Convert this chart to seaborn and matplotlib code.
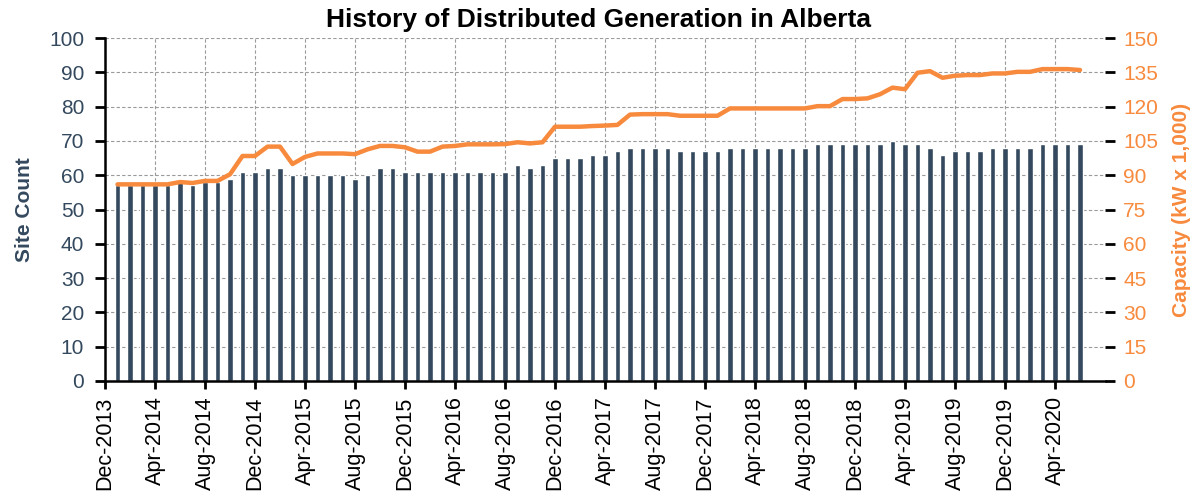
import matplotlib
matplotlib.use("Agg")
import matplotlib.pyplot as plt
import seaborn as sns
import numpy as np
import pandas as pd

# ---- data ----
# months since Dec-2013 (Jan-2014 = 1 ... Jun-2020 = 78)
months = list(range(1, 79))
site_count = [
    57, 57, 57, 57, 57, 58, 57, 58, 58, 59, 61, 61,   # 2014
    62, 62, 60, 60, 60, 60, 60, 59, 60, 62, 62, 61,   # 2015
    61, 61, 61, 61, 61, 61, 61, 61, 63, 62, 63, 65,   # 2016
    65, 65, 66, 66, 67, 68, 68, 68, 68, 67, 67, 67,   # 2017
    67, 68, 68, 68, 68, 68, 68, 68, 69, 69, 69, 69,   # 2018
    69, 69, 70, 69, 69, 68, 66, 67, 67, 67, 68, 68,   # 2019
    68, 68, 69, 69, 69, 69,                           # 2020
]
capacity = [
    86.0, 86.0, 86.0, 86.0, 86.0, 87.0, 86.6, 87.5, 87.5, 90.4, 98.4, 98.4,
    102.5, 102.5, 94.9, 98.0, 99.5, 99.5, 99.5, 99.2, 101.3, 102.8, 102.8, 102.2,
    100.3, 100.3, 102.5, 102.8, 103.5, 103.5, 103.5, 103.6, 104.4, 103.9, 104.4, 111.2,
    111.2, 111.2, 111.5, 111.7, 112.0, 116.5, 116.7, 116.7, 116.7, 116.0, 116.0, 116.0,
    116.0, 119.2, 119.2, 119.2, 119.2, 119.2, 119.2, 119.2, 120.2, 120.2, 123.3, 123.3,
    123.6, 125.4, 128.3, 127.6, 134.8, 135.5, 132.6, 133.5, 133.8, 133.8, 134.5, 134.5,
    135.2, 135.2, 136.4, 136.4, 136.4, 136.0,
]
tick_positions = list(range(0, 80, 4))
tick_labels = [
    "Dec-2013", "Apr-2014", "Aug-2014", "Dec-2014", "Apr-2015", "Aug-2015",
    "Dec-2015", "Apr-2016", "Aug-2016", "Dec-2016", "Apr-2017", "Aug-2017",
    "Dec-2017", "Apr-2018", "Aug-2018", "Dec-2018", "Apr-2019", "Aug-2019",
    "Dec-2019", "Apr-2020",
]

df = pd.DataFrame({"month": months, "sites": site_count, "capacity": capacity})

# ---- style ----
sns.set_style("white")
plt.rcParams["font.family"] = ["Liberation Sans", "DejaVu Sans"]

SLATE = "#34495e"
ORANGE = "#f78a3d"

fig = plt.figure(figsize=(11.93, 4.93), dpi=100)
ax = fig.add_axes([105 / 1193, 112 / 493, 1000 / 1193, 343 / 493])

sns.barplot(data=df, x="month", y="sites", native_scale=True, width=0.42,
            color=SLATE, saturation=1, ax=ax, zorder=2)
ax.set_xlim(0, 80)
ax.set_ylim(0, 100)
ax.set_yticks(range(0, 101, 10))
ax.set_xticks(tick_positions)
ax.set_xticklabels(tick_labels, rotation=90, fontsize=15.5, color="black")
ax.tick_params(axis="y", labelsize=15, labelcolor=SLATE, color="black",
               length=7, width=2, pad=8, direction="out", left=True)
ax.tick_params(axis="x", length=6, width=2, color="black", pad=5,
               direction="out", bottom=True)
ax.grid(True, linestyle=(0, (3, 2)), color="#9a9a9a", linewidth=0.8, zorder=0)
ax.set_axisbelow(True)
for s in ["top", "right"]:
    ax.spines[s].set_visible(False)
for s in ["left", "bottom"]:
    ax.spines[s].set_color("black")
    ax.spines[s].set_linewidth(1.8)
ax.set_xlabel("")
ax.set_ylabel("Site Count", fontsize=15, fontweight="bold", color=SLATE, labelpad=11)

ax2 = ax.twinx()
sns.lineplot(data=df, x="month", y="capacity", color=ORANGE, linewidth=3.2, ax=ax2)
ax2.set_ylim(0, 150)
ax2.set_yticks(range(0, 151, 15))
ax2.tick_params(axis="y", labelsize=15, labelcolor=ORANGE, color="black",
                length=7, width=2, pad=6, direction="out", right=True)
for s in ["top", "right", "left", "bottom"]:
    ax2.spines[s].set_visible(False)
ax2.set_ylabel("Capacity (kW x 1,000)", fontsize=15, fontweight="bold", color=ORANGE, labelpad=10)
ax2.set_xlim(0, 80)
ax2.grid(False)

fig.text(599 / 1193, 1 - 20 / 493, "History of Distributed Generation in Alberta",
         ha="center", va="center", fontsize=19, fontweight="bold", color="black")

fig.savefig("out.png", dpi=100)
